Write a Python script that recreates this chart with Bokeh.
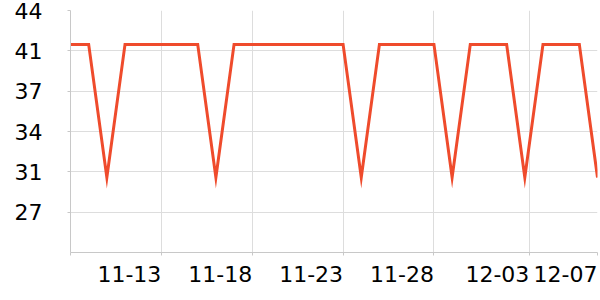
import pandas as pd
from bokeh.plotting import figure
from bokeh.models import FixedTicker, CustomJSTickFormatter, Range1d
from bokeh.embed import file_html
from bokeh.resources import INLINE

# data
dates = pd.date_range("2023-11-08", "2023-12-07", freq="D")
values = [41.2, 41.2, 30.2, 41.2, 41.2, 41.2, 41.2, 41.2, 30.2,
          41.2, 41.2, 41.2, 41.2, 41.2, 41.2, 41.2, 30.2,
          41.2, 41.2, 41.2, 41.2, 30.2,
          41.2, 41.2, 41.2, 30.2,
          41.2, 41.2, 41.2, 30.2]
x_tick_dates = ["2023-11-08", "2023-11-13", "2023-11-18", "2023-11-23",
                "2023-11-28", "2023-12-03 06:00", "2023-12-07"]
y_ticks = [24 + 10 / 3 * k for k in range(1, 7)]
y_min, y_max = 24, 44

FONT = "DejaVu Sans"

p = figure(width=600, height=300, x_axis_type="datetime",
           output_backend="svg", toolbar_location=None,
           min_border_left=70, min_border_right=3, min_border_top=10,
           min_border_bottom=48)
p.x_range = Range1d(dates[0], dates[-1])
p.y_range = Range1d(y_min, y_max)
p.outline_line_color = None
p.background_fill_color = "white"

p.line(dates, values, line_color="#ef4b2c", line_width=3, line_join="miter")

xt = [pd.Timestamp(d).value // 10**6 for d in x_tick_dates]
p.xaxis.ticker = FixedTicker(ticks=xt)
p.xaxis.formatter = CustomJSTickFormatter(code="""
const d = new Date(tick);
if (index == 0) return '';
const m = String(d.getUTCMonth() + 1).padStart(2, '0');
const dd = String(d.getUTCDate()).padStart(2, '0');
return m + '-' + dd;
""")
p.yaxis.ticker = FixedTicker(ticks=y_ticks)
p.yaxis.formatter = CustomJSTickFormatter(code="return String(Math.round(tick));")

for ax in (p.xaxis[0], p.yaxis[0]):
    ax.axis_line_color = "#c8c8c8"
    ax.major_tick_line_color = "#c8c8c8"
    ax.major_tick_out = 3
    ax.major_tick_in = 0
    ax.minor_tick_line_color = None
    ax.major_label_text_font = FONT
    ax.major_label_text_font_size = "22px"
    ax.major_label_text_color = "black"

p.xaxis.major_label_standoff = 18
p.xaxis.major_label_orientation = 1e-6
p.yaxis.major_label_standoff = 25

p.xgrid.grid_line_color = "#dddddd"
p.ygrid.grid_line_color = "#dddddd"
p.xgrid.ticker = p.xaxis.ticker
p.ygrid.ticker = p.yaxis.ticker

open("out.html", "w").write(file_html(p, INLINE))
